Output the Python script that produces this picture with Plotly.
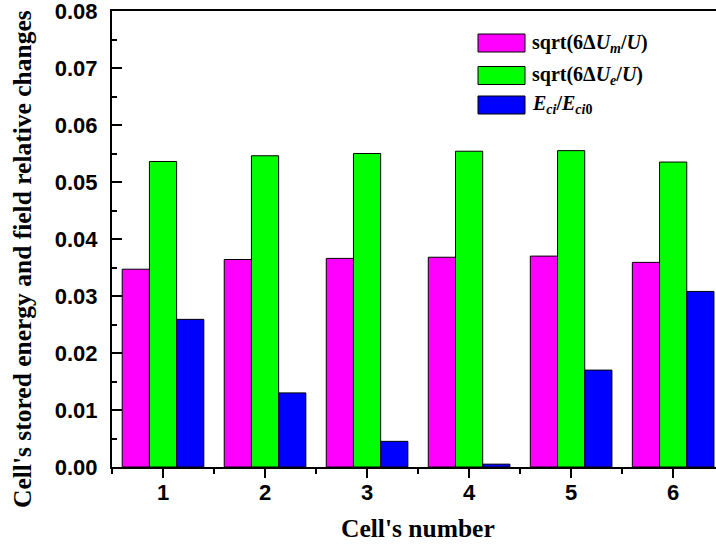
import plotly.graph_objects as go

cells = [1, 2, 3, 4, 5, 6]
tick_labels = ["1", "2", "3", "4", "5", "6"]
series_names = [
    "sqrt(6Δ<i>U</i><sub><i>m</i></sub>/<i>U</i>)",
    "sqrt(6Δ<i>U</i><sub><i>e</i></sub>/<i>U</i>)",
    "<i>E</i><sub><i>ci</i></sub>/<i>E</i><sub><i>ci</i>0</sub>",
]
u_m = [0.0347, 0.0364, 0.0366, 0.0368, 0.0370, 0.0359]
u_e = [0.0536, 0.0546, 0.0550, 0.0554, 0.0555, 0.0535]
e_ratio = [0.0259, 0.0130, 0.0045, 0.0005, 0.0170, 0.0308]
colors = ["#ff00ff", "#00ff00", "#0000ff"]
x_title = "Cell's number"
y_title = "Cell's stored energy and field relative changes"

fig = go.Figure()
for name, vals, col in zip(series_names, [u_m, u_e, e_ratio], colors):
    fig.add_trace(go.Bar(
        x=cells, y=vals, name=name,
        marker=dict(color=col, line=dict(color="black", width=1)),
        showlegend=False,
    ))

W, H = 716, 550
ml, mr, mt, mb = 112, 0, 11, 83
pw, ph = W - ml - mr, H - mt - mb


def px(x):
    return (x - ml) / pw


def py(y):
    return 1 - (y - mt) / ph


# custom legend (large swatches)
leg_x0, leg_x1 = 478, 525
leg_rows = [34, 66.5, 96]
for name, col, yt in zip(series_names, colors, leg_rows):
    fig.add_shape(type="rect", xref="paper", yref="paper",
                  x0=px(leg_x0), x1=px(leg_x1), y0=py(yt), y1=py(yt + 18),
                  fillcolor=col, line=dict(color="black", width=1))
    fig.add_annotation(xref="paper", yref="paper",
                       x=px(leg_x1 + 5), y=py(yt + 9),
                       text="<b>" + name + "</b>", showarrow=False,
                       xanchor="left", yanchor="middle",
                       font=dict(family="Liberation Serif", size=20, color="black"))

# axis titles
fig.add_annotation(xref="paper", yref="paper", x=px(418), y=py(528),
                   text="<b>" + x_title + "</b>", showarrow=False,
                   xanchor="center", yanchor="middle",
                   font=dict(family="Liberation Serif", size=25.5, color="black"))
fig.add_annotation(xref="paper", yref="paper", x=px(22), y=py(259),
                   text="<b>" + y_title + "</b>", showarrow=False, textangle=-90,
                   xanchor="center", yanchor="middle",
                   font=dict(family="Liberation Serif", size=25.5, color="black"))

fig.update_layout(
    width=W, height=H,
    margin=dict(l=ml, r=mr, t=mt, b=mb, autoexpand=False),
    paper_bgcolor="white", plot_bgcolor="white",
    barmode="group", bargap=0.2, bargroupgap=0,
    font=dict(family="Liberation Sans", size=22, color="black"),
)
fig.update_xaxes(
    range=[0.5, 6.42], tickvals=cells, ticktext=["<b>" + t + "</b>" for t in tick_labels],
    showline=True, linecolor="black", linewidth=2, mirror=True,
    ticks="outside", ticklen=9, tickwidth=2, tickcolor="black",
    minor=dict(tick0=0.5, dtick=1, ticks="outside", ticklen=5, tickwidth=2, tickcolor="black"),
    showgrid=False, zeroline=False, automargin=False, ticklabeloverflow="allow",
    tickfont=dict(family="Liberation Sans", size=22), ticklabelstandoff=-4,
)
fig.update_yaxes(
    range=[0, 0.08], dtick=0.01, tickformat=".2f",
    showline=True, linecolor="black", linewidth=2,
    ticks="inside", ticklen=10, tickwidth=2, tickcolor="black",
    minor=dict(dtick=0.005, ticks="inside", ticklen=5, tickwidth=2, tickcolor="black"),
    showgrid=False, zeroline=False, automargin=False, ticklabeloverflow="allow",
    tickfont=dict(family="Liberation Sans", size=22),
    tickprefix="<b>", ticksuffix="</b>", ticklabelstandoff=8,
)
fig.write_html("out.html", config={"displayModeBar": False},
               post_script="document.body.style.margin='0';document.body.style.padding='0';")
